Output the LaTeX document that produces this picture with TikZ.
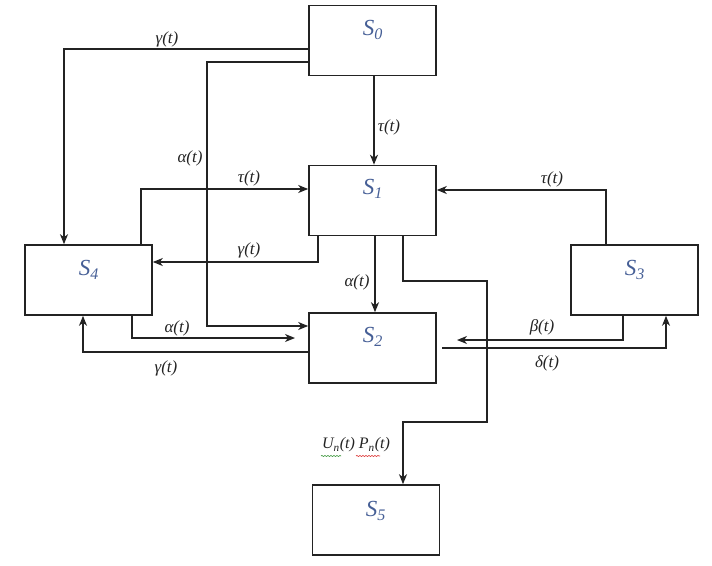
\documentclass[tikz,border=0pt]{standalone}
\usepackage{fontspec}
\setmainfont{Liberation Serif}
\usetikzlibrary{arrows.meta,decorations.pathmorphing}
\definecolor{stxt}{RGB}{70,95,150}
\definecolor{lncol}{RGB}{35,35,35}
\definecolor{spgreen}{RGB}{60,150,60}
\definecolor{spred}{RGB}{220,50,50}
\begin{document}
\begin{tikzpicture}[x=1pt,y=-1pt,
  box/.style={draw=lncol,line width=1.6pt,minimum width=127pt,minimum height=70pt,inner sep=0pt},
  arr/.style={draw=lncol,line width=1.3pt,-{Stealth[length=10pt,width=8pt,inset=3pt]}},
  lab/.style={font=\fontsize{17}{17}\selectfont\itshape,inner sep=0pt,text=lncol},
  slab/.style={font=\fontsize{23}{23}\selectfont\itshape,text=stxt,inner sep=0pt},
  squig/.style={line width=0.6pt,decorate,decoration={snake,amplitude=0.6pt,segment length=3pt}}]
\useasboundingbox (0,0) rectangle (712,565);
% boxes
\node[box] (s0) at (372.5,40.5) {};
\node[box] (s1) at (372.5,200.5) {};
\node[box] (s2) at (372.5,348) {};
\node[box] (s4) at (88.5,280) {};
\node[box] (s3) at (634.5,280) {};
\node[box] (s5) at (376,520) {};
% box texts
\node[slab] (t0) at (373,30) {S\textsubscript{0}};
\node[slab] (t1) at (373,189) {S\textsubscript{1}};
\node[slab] (t2) at (373,337) {S\textsubscript{2}};
\node[slab] (t4) at (89,270) {S\textsubscript{4}};
\node[slab] (t3) at (635,270) {S\textsubscript{3}};
\node[slab] (t5) at (376,511) {S\textsubscript{5}};
% free ends
\coordinate (betaend) at (457,340);
\coordinate (alphaend) at (295,338);
\coordinate (deltastart) at (442,348);
% connectors
\draw[arr] (s0.west|-0,49) -| (s4.north-|64,0);
\draw[arr] (s0.west|-0,62) -| (207,326) -- (s2.west|-0,326);
\draw[arr] (s0.south-|374,0) -- (s1.north-|374,0);
\draw[arr] (s4.north-|141,0) |- (s1.west|-0,189);
\draw[arr] (s1.south-|318,0) |- (s4.east|-0,262);
\draw[arr] (s1.south-|375,0) -- (s2.north-|375,0);
\draw[arr] (s1.south-|403,0) |- (487,281) |- (403,422) -- (s5.north-|403,0);
\draw[arr] (s3.north-|606,0) |- (s1.east|-0,190);
\draw[arr] (s3.south-|623,0) |- (betaend);
\draw[arr] (deltastart) -| (s3.south-|666,0);
\draw[arr] (s4.south-|132,0) |- (alphaend);
\draw[arr] (s2.west|-0,352) -| (s4.south-|83,0);
% labels
\node[lab] (l1) at (167,39) {γ(t)};
\node[lab] (l2) at (190,158) {α(t)};
\node[lab] (l3) at (389,127) {τ(t)};
\node[lab] (l4) at (249,178) {τ(t)};
\node[lab] (l5) at (249,250) {γ(t)};
\node[lab] (l6) at (357,282) {α(t)};
\node[lab,font=\fontsize{16}{16}\selectfont\itshape] (l7) at (356,445) {U\textsubscript{n}(t) P\textsubscript{n}(t)};
\node[lab] (l8) at (552,179) {τ(t)};
\node[lab] (l9) at (542,327) {β(t)};
\node[lab] (l10) at (547,363) {δ(t)};
\node[lab] (l11) at (177,328) {α(t)};
\node[lab] (l12) at (166,368) {γ(t)};
\draw[squig,spgreen] (321,456) -- (341,456);
\draw[squig,spred] (356,456) -- (380,456);
\end{tikzpicture}
\end{document}
